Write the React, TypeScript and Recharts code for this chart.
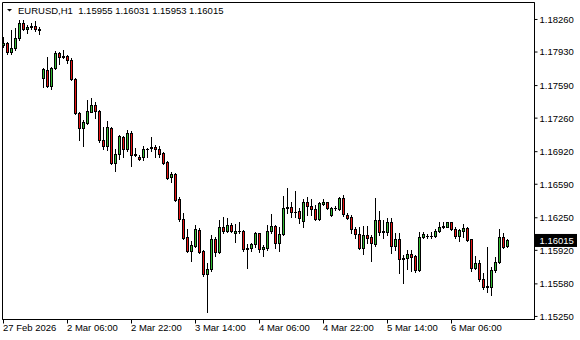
import React from 'react';
import { ComposedChart, Bar, XAxis, YAxis, ReferenceLine, ReferenceArea } from 'recharts';

const SYMBOL = 'EURUSD,H1';

const OPEN = [
  1.17993, 1.18013, 1.17922, 1.17963, 1.18064, 1.18216, 1.18159, 1.18176, 1.18189, 1.18155,
  1.17659, 1.17743, 1.17584, 1.17767, 1.17912, 1.17878, 1.17880, 1.17845, 1.17652, 1.17311,
  1.17159, 1.17209, 1.17321, 1.17385, 1.17328, 1.17030, 1.16976, 1.17159, 1.16797, 1.16889,
  1.17061, 1.16939, 1.17108, 1.16882, 1.16858, 1.16860, 1.16939, 1.16949, 1.16963, 1.16946,
  1.16899, 1.16807, 1.16662, 1.16689, 1.16433, 1.16230, 1.16047, 1.15912, 1.15963, 1.16122,
  1.15905, 1.15673, 1.15723, 1.16027, 1.15899, 1.16149, 1.16115, 1.16172, 1.16088, 1.16112,
  1.16112, 1.15929, 1.15936, 1.15980, 1.16088, 1.15926, 1.15943, 1.16111, 1.16162, 1.15986,
  1.16078, 1.16341, 1.16354, 1.16301, 1.16311, 1.16216, 1.16402, 1.16365, 1.16331, 1.16233,
  1.16388, 1.16402, 1.16274, 1.16341, 1.16334, 1.16443, 1.16274, 1.16250, 1.16128, 1.16078,
  1.15943, 1.16071, 1.16047, 1.15980, 1.16220, 1.16105, 1.16105, 1.16199, 1.15963, 1.16027,
  1.15824, 1.15834, 1.15875, 1.15858, 1.15716, 1.16047, 1.16064, 1.16061, 1.16061, 1.16111,
  1.16152, 1.16155, 1.16199, 1.16128, 1.16061, 1.16115, 1.16142, 1.16027, 1.15740, 1.15784,
  1.15625, 1.15554, 1.15547, 1.15716, 1.15794, 1.16047, 1.15955,
];
const HIGH = [
  1.18074, 1.18030, 1.18149, 1.18165, 1.18250, 1.18250, 1.18199, 1.18223, 1.18243, 1.18176,
  1.17760, 1.17872, 1.17777, 1.17936, 1.17929, 1.17946, 1.17895, 1.17861, 1.17662, 1.17321,
  1.17237, 1.17439, 1.17463, 1.17416, 1.17338, 1.17169, 1.17230, 1.17162, 1.16943, 1.17084,
  1.17074, 1.17135, 1.17125, 1.16949, 1.16882, 1.16976, 1.16956, 1.17068, 1.16980, 1.16973,
  1.16916, 1.16824, 1.16706, 1.16696, 1.16453, 1.16291, 1.16129, 1.16014, 1.16172, 1.16145,
  1.15919, 1.15784, 1.16071, 1.16047, 1.16223, 1.16250, 1.16240, 1.16196, 1.16183, 1.16206,
  1.16122, 1.15977, 1.15993, 1.16098, 1.16095, 1.15970, 1.16172, 1.16284, 1.16172, 1.16155,
  1.16466, 1.16544, 1.16402, 1.16517, 1.16341, 1.16432, 1.16453, 1.16432, 1.16375, 1.16402,
  1.16432, 1.16409, 1.16351, 1.16365, 1.16459, 1.16476, 1.16290, 1.16270, 1.16155, 1.16155,
  1.16162, 1.16162, 1.16071, 1.16442, 1.16314, 1.16223, 1.16240, 1.16240, 1.16088, 1.16088,
  1.15868, 1.15919, 1.15919, 1.15868, 1.16105, 1.16098, 1.16081, 1.16098, 1.16128, 1.16206,
  1.16206, 1.16206, 1.16206, 1.16155, 1.16128, 1.16182, 1.16149, 1.16034, 1.15858, 1.15817,
  1.15682, 1.15946, 1.15750, 1.15845, 1.16128, 1.16088, 1.16031,
];
const LOW = [
  1.17980, 1.17905, 1.17905, 1.17946, 1.18047, 1.18149, 1.18115, 1.18159, 1.18142, 1.18105,
  1.17568, 1.17568, 1.17554, 1.17750, 1.17801, 1.17861, 1.17811, 1.17642, 1.17294, 1.17030,
  1.16976, 1.17199, 1.17314, 1.17253, 1.17017, 1.16943, 1.16932, 1.16791, 1.16716, 1.16838,
  1.16865, 1.16926, 1.16774, 1.16872, 1.16831, 1.16831, 1.16865, 1.16922, 1.16858, 1.16858,
  1.16791, 1.16642, 1.16612, 1.16419, 1.16216, 1.16031, 1.15895, 1.15811, 1.15953, 1.15892,
  1.15656, 1.15294, 1.15710, 1.15858, 1.15885, 1.16088, 1.16098, 1.16098, 1.16004, 1.16088,
  1.15912, 1.15740, 1.15912, 1.15953, 1.15895, 1.15861, 1.15919, 1.16088, 1.15943, 1.15912,
  1.16071, 1.16297, 1.16250, 1.16257, 1.16189, 1.16155, 1.16274, 1.16274, 1.16223, 1.16223,
  1.16375, 1.16334, 1.16267, 1.16324, 1.16324, 1.16267, 1.16230, 1.16088, 1.16044, 1.15929,
  1.15875, 1.15986, 1.15811, 1.15963, 1.16071, 1.16037, 1.16071, 1.15892, 1.15919, 1.15689,
  1.15588, 1.15723, 1.15709, 1.15699, 1.15706, 1.16037, 1.16044, 1.16037, 1.16047, 1.16098,
  1.16138, 1.16149, 1.16122, 1.16044, 1.16013, 1.16054, 1.16010, 1.15709, 1.15723, 1.15608,
  1.15520, 1.15497, 1.15460, 1.15699, 1.15784, 1.15936, 1.15953,
];
const CLOSE = [
  1.18020, 1.17922, 1.17963, 1.18064, 1.18216, 1.18159, 1.18182, 1.18189, 1.18155, 1.18149,
  1.17750, 1.17584, 1.17767, 1.17912, 1.17878, 1.17880, 1.17845, 1.17652, 1.17311, 1.17159,
  1.17220, 1.17328, 1.17385, 1.17328, 1.17030, 1.16976, 1.17162, 1.16797, 1.16889, 1.17074,
  1.16939, 1.17101, 1.16882, 1.16895, 1.16840, 1.16939, 1.16946, 1.16966, 1.16939, 1.16892,
  1.16804, 1.16652, 1.16689, 1.16426, 1.16230, 1.16044, 1.15912, 1.15966, 1.16129, 1.15902,
  1.15673, 1.15723, 1.16027, 1.15899, 1.16149, 1.16115, 1.16169, 1.16115, 1.16112, 1.16108,
  1.15926, 1.15936, 1.15980, 1.16088, 1.15926, 1.15946, 1.16111, 1.16162, 1.15993, 1.16078,
  1.16341, 1.16354, 1.16301, 1.16307, 1.16240, 1.16402, 1.16368, 1.16331, 1.16233, 1.16395,
  1.16405, 1.16341, 1.16341, 1.16344, 1.16446, 1.16280, 1.16247, 1.16128, 1.16078, 1.15943,
  1.16071, 1.16044, 1.15986, 1.16220, 1.16105, 1.16111, 1.16199, 1.15963, 1.16027, 1.15824,
  1.15834, 1.15875, 1.15851, 1.15716, 1.16047, 1.16078, 1.16061, 1.16064, 1.16111, 1.16152,
  1.16162, 1.16199, 1.16128, 1.16061, 1.16122, 1.16142, 1.16020, 1.15740, 1.15784, 1.15622,
  1.15541, 1.15541, 1.15716, 1.15794, 1.16047, 1.15953, 1.16015,
];

const TIME_TICKS = [0, 16, 32, 48, 64, 80, 96, 112];
const TIME_LABELS = [
  '27 Feb 2026', '2 Mar 06:00', '2 Mar 22:00', '3 Mar 14:00',
  '4 Mar 06:00', '4 Mar 22:00', '5 Mar 14:00', '6 Mar 06:00',
];
const PRICE_TICKS = [
  1.1826, 1.1793, 1.1759, 1.1726, 1.1692, 1.1659, 1.1625, 1.1592, 1.1558, 1.1525,
];

const X_DOMAIN: [number, number] = [-0.25, 132.75];
const Y_DOMAIN: [number, number] = [1.15219, 1.18432];

const BULL = '#33bb33';
const BEAR = '#e81414';
const FONT = "'Liberation Sans', Arial, sans-serif";

const data = OPEN.map((o, i) => ({
  i,
  o,
  h: HIGH[i],
  l: LOW[i],
  c: CLOSE[i],
  range: [LOW[i], HIGH[i]],
}));

const last = OPEN.length - 1;

function Candle(props: any) {
  const { x, y, width, height, payload } = props;
  if (!payload || x == null || y == null) return null;
  const { o, h, l, c } = payload;
  const top = Math.min(y, y + height);
  const bot = Math.max(y, y + height);
  const span = h - l;
  const toY = (v: number) => (span > 0 ? top + ((h - v) / span) * (bot - top) : top);
  const cx = x + width / 2;
  const col = Math.floor(cx);
  const px = col + 0.5;
  const rH = Math.floor(top);
  const rL = Math.floor(bot);
  const rTop = Math.floor(toY(Math.max(o, c)));
  const rBot = Math.floor(toY(Math.min(o, c)));
  const fill = c >= o ? BULL : BEAR;
  return (
    <g>
      <line x1={px} x2={px} y1={rH} y2={rL + 1} stroke="#000" strokeWidth={1} />
      {rBot > rTop ? (
        <rect x={col - 0.5} y={rTop + 0.5} width={2} height={rBot - rTop} fill={fill} stroke="#000" strokeWidth={1} />
      ) : (
        <line x1={col - 1} x2={col + 2} y1={rTop + 0.5} y2={rTop + 0.5} stroke="#000" strokeWidth={1} />
      )}
    </g>
  );
}

function TimeTick(props: any) {
  const { x, y, payload } = props;
  const idx = TIME_TICKS.indexOf(payload.value);
  return (
    <text x={x - 0.5} y={y} dy="0.71em" textAnchor="start" fontSize={9.5} fontFamily={FONT} fill="#000">
      {idx >= 0 ? TIME_LABELS[idx] : ''}
    </text>
  );
}

function PriceTick(props: any) {
  const { x, y, payload } = props;
  return (
    <text x={x} y={y} dy="0.36em" textAnchor="start" fontSize={9.5} fontFamily={FONT} fill="#000">
      {Number(payload.value).toFixed(5)}
    </text>
  );
}

function PriceTag(props: any) {
  const vb = props.viewBox || {};
  const right = vb.x + vb.width;
  const yy = vb.y;
  return (
    <g>
      <rect x={right + 0.5} y={yy - 7} width={42} height={13} fill="#000" />
      <text x={right + 5} y={yy - 0.5} dy="0.36em" fontSize={9.5} fontFamily={FONT} fill="#fff">
        {CLOSE[last].toFixed(5)}
      </text>
    </g>
  );
}

export default function App() {
  const title = `${SYMBOL}  ${OPEN[last].toFixed(5)} ${HIGH[last].toFixed(5)} ${LOW[last].toFixed(5)} ${CLOSE[last].toFixed(5)}`;
  return (
    <div style={{ position: 'absolute', left: 0, top: 0, width: 580, height: 340, background: '#fff', overflow: 'hidden' }}>
      <ComposedChart
        width={580}
        height={340}
        data={data}
        margin={{ top: 2.5, left: 2.5, right: 0.5, bottom: 0.5 }}
      >
        <XAxis
          dataKey="i"
          type="number"
          domain={X_DOMAIN}
          allowDataOverflow
          ticks={TIME_TICKS}
          interval={0}
          height={20}
          tickSize={4}
          tickMargin={1}
          axisLine={{ stroke: '#000' }}
          tickLine={{ stroke: '#000' }}
          tick={<TimeTick />}
        />
        <YAxis
          orientation="right"
          type="number"
          domain={Y_DOMAIN}
          allowDataOverflow
          ticks={PRICE_TICKS}
          interval={0}
          width={45}
          tickSize={3}
          tickMargin={2}
          axisLine={{ stroke: '#000' }}
          tickLine={{ stroke: '#000' }}
          tick={<PriceTick />}
        />
        <ReferenceArea
          x1={X_DOMAIN[0]}
          x2={X_DOMAIN[1]}
          y1={Y_DOMAIN[0]}
          y2={Y_DOMAIN[1]}
          fill="none"
          fillOpacity={0}
          stroke="#000"
          strokeWidth={1}
          ifOverflow="visible"
        />
        <Bar dataKey="range" barSize={3} shape={<Candle />} isAnimationActive={false} />
        <ReferenceLine y={CLOSE[last]} stroke="none" ifOverflow="visible" label={<PriceTag />} />
      </ComposedChart>
      <svg style={{ position: 'absolute', left: 0, top: 0 }} width={16} height={16}>
        <polygon points="7,9 12,9 9.5,11.5" fill="#000" />
      </svg>
      <div
        style={{
          position: 'absolute',
          left: 18,
          top: 4.5,
          fontFamily: FONT,
          fontSize: 9.5,
          lineHeight: '12px',
          whiteSpace: 'pre',
          color: '#000',
        }}
      >
        {title}
      </div>
    </div>
  );
}
